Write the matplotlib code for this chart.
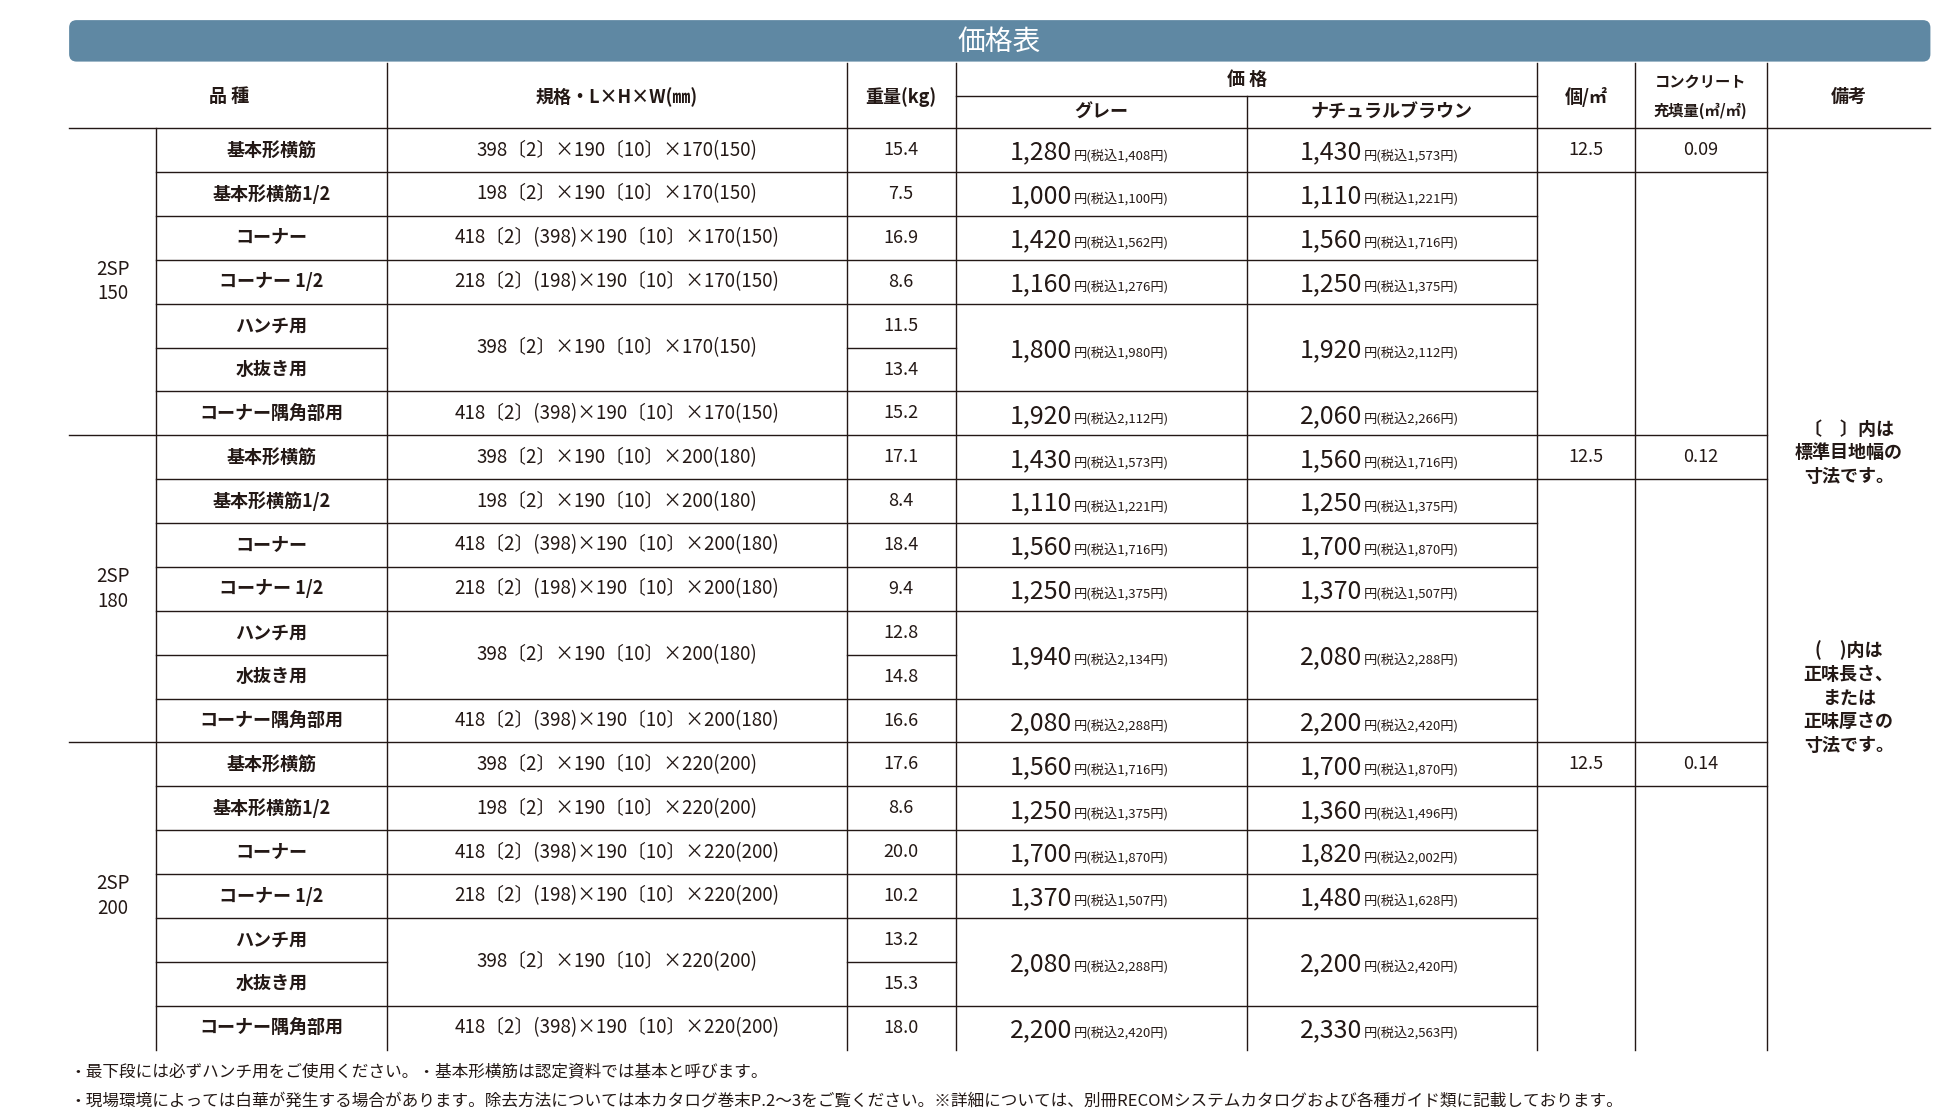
import matplotlib.pyplot as plt
from matplotlib.patches import FancyBboxPatch

plt.rcParams['font.family'] = ['Noto Sans CJK JP', 'DejaVu Sans']

groups = ['2SP\n150', '2SP\n180', '2SP\n200']
names = ['基本形横筋', '基本形横筋1/2', 'コーナー', 'コーナー 1/2', 'ハンチ用', '水抜き用', 'コーナー隅角部用']
specs = [
    ['398〔2〕×190〔10〕×170(150)', '198〔2〕×190〔10〕×170(150)', '418〔2〕(398)×190〔10〕×170(150)',
     '218〔2〕(198)×190〔10〕×170(150)', '398〔2〕×190〔10〕×170(150)', '418〔2〕(398)×190〔10〕×170(150)'],
    ['398〔2〕×190〔10〕×200(180)', '198〔2〕×190〔10〕×200(180)', '418〔2〕(398)×190〔10〕×200(180)',
     '218〔2〕(198)×190〔10〕×200(180)', '398〔2〕×190〔10〕×200(180)', '418〔2〕(398)×190〔10〕×200(180)'],
    ['398〔2〕×190〔10〕×220(200)', '198〔2〕×190〔10〕×220(200)', '418〔2〕(398)×190〔10〕×220(200)',
     '218〔2〕(198)×190〔10〕×220(200)', '398〔2〕×190〔10〕×220(200)', '418〔2〕(398)×190〔10〕×220(200)'],
]
weights = [[15.4, 7.5, 16.9, 8.6, 11.5, 13.4, 15.2],
           [17.1, 8.4, 18.4, 9.4, 12.8, 14.8, 16.6],
           [17.6, 8.6, 20.0, 10.2, 13.2, 15.3, 18.0]]
gray = [[1280, 1000, 1420, 1160, 1800, 1920],
        [1430, 1110, 1560, 1250, 1940, 2080],
        [1560, 1250, 1700, 1370, 2080, 2200]]
gray_tax = [[1408, 1100, 1562, 1276, 1980, 2112],
            [1573, 1221, 1716, 1375, 2134, 2288],
            [1716, 1375, 1870, 1507, 2288, 2420]]
natural = [[1430, 1110, 1560, 1250, 1920, 2060],
           [1560, 1250, 1700, 1370, 2080, 2200],
           [1700, 1360, 1820, 1480, 2200, 2330]]
natural_tax = [[1573, 1221, 1716, 1375, 2112, 2266],
               [1716, 1375, 1870, 1507, 2288, 2420],
               [1870, 1496, 2002, 1628, 2420, 2563]]
per_m2 = [12.5, 12.5, 12.5]
concrete = ['0.09', '0.12', '0.14']
notes = ['・最下段には必ずハンチ用をご使用ください。・基本形横筋は認定資料では基本と呼びます。',
         '・現場環境によっては白華が発生する場合があります。除去方法については本カタログ巻末P.2～3をご覧ください。※詳細については、別冊RECOMシステムカタログおよび各種ガイド類に記載しております。']

TXT = '#231815'
fig = plt.figure(figsize=(19.48, 11.2), dpi=100)
ax = fig.add_axes([0, 0, 1, 1])
ax.set_xlim(0, 1550)
ax.set_ylim(891, 0)
ax.axis('off')

X = [55, 124, 308, 674, 761, 992, 1223, 1301, 1406, 1536]
top, sub, body = 50, 76, 102
rh = (835 - body) / 21

def hl(y, x0, x1, lw=1.0):
    ax.plot([x0, x1], [y, y], color=TXT, lw=lw)

def vl(x, y0, y1):
    ax.plot([x, x], [y0, y1], color=TXT, lw=1.0)

def t(x, y, s, size=13, weight='normal', **kw):
    ax.text(x, y, s, fontsize=size, fontweight=weight, color=TXT, ha=kw.pop('ha', 'center'), va='center', **kw)

# banner
ax.add_patch(FancyBboxPatch((55, 16), 1481, 33, boxstyle='round,pad=0,rounding_size=6',
                            fc='#5f88a3', ec='none'))
ax.text(795, 33, '価格表', fontsize=20, color='white', ha='center', va='center')

# header
t(182, 77, '品 種', weight='bold')
t(491, 77, '規格・L×H×W(㎜)', weight='bold')
t(717, 77, '重量(kg)', weight='bold')
t(992, 63, '価 格', weight='bold')
t(876, 89, 'グレー', weight='bold')
t(1107, 89, 'ナチュラルブラウン', weight='bold')
t(1262, 77, '個/㎡', weight='bold')
t(1353, 65, 'コンクリート', size=11, weight='bold')
t(1353, 88, '充填量(㎥/㎡)', size=11, weight='bold')
t(1471, 77, '備考', weight='bold')
hl(sub, X[4], X[6])
hl(body, X[0], X[9])
for x in [308, 674, 761, 1223, 1301, 1406]:
    vl(x, top, 835)
vl(992, sub, 835)
vl(124, body, 835)

def price(xl, y, v, tax):
    ax.text(xl + 92, y + 2, f'{v:,}', fontsize=18, color=TXT, ha='right', va='center')
    ax.text(xl + 93, y + 4, f'円(税込{tax:,}円)', fontsize=9.5, color=TXT, ha='left', va='center')

for g in range(3):
    y0 = body + g * 7 * rh
    ymid = lambda r: y0 + (r + 0.5) * rh
    t(90, y0 + 3.5 * rh, groups[g], size=13.5, linespacing=1.2)
    for r in range(7):
        t(216, ymid(r), names[r], weight='bold')
        t(717, ymid(r), f'{weights[g][r]:.1f}')
    for k in range(6):
        if k < 4:
            yc = ymid(k)
        elif k == 4:
            yc = y0 + 5 * rh
        else:
            yc = ymid(6)
        t(491, yc, specs[g][k], size=13.5)
        price(X[4], yc, gray[g][k], gray_tax[g][k])
        price(X[5], yc, natural[g][k], natural_tax[g][k])
    t(1262, ymid(0), f'{per_m2[g]}')
    t(1353, ymid(0), concrete[g])
    # row lines
    for r in range(1, 7):
        y = y0 + r * rh
        if r == 5:
            hl(y, X[1], X[2])
            hl(y, X[3], X[4])
        else:
            hl(y, X[1], X[6])
    hl(y0 + rh, X[6], X[8])
    if g > 0:
        hl(y0, X[0], X[8])

t(1471, 360, '〔　〕内は\n標準目地幅の\n寸法です。', weight='bold', linespacing=1.3)
t(1471, 555, '(　)内は\n正味長さ、\nまたは\n正味厚さの\n寸法です。', weight='bold', linespacing=1.3)

ax.text(55, 853, notes[0], fontsize=12, color=TXT, ha='left', va='center')
ax.text(55, 876, notes[1], fontsize=12, color=TXT, ha='left', va='center')

fig.savefig('out.png', dpi=100)
